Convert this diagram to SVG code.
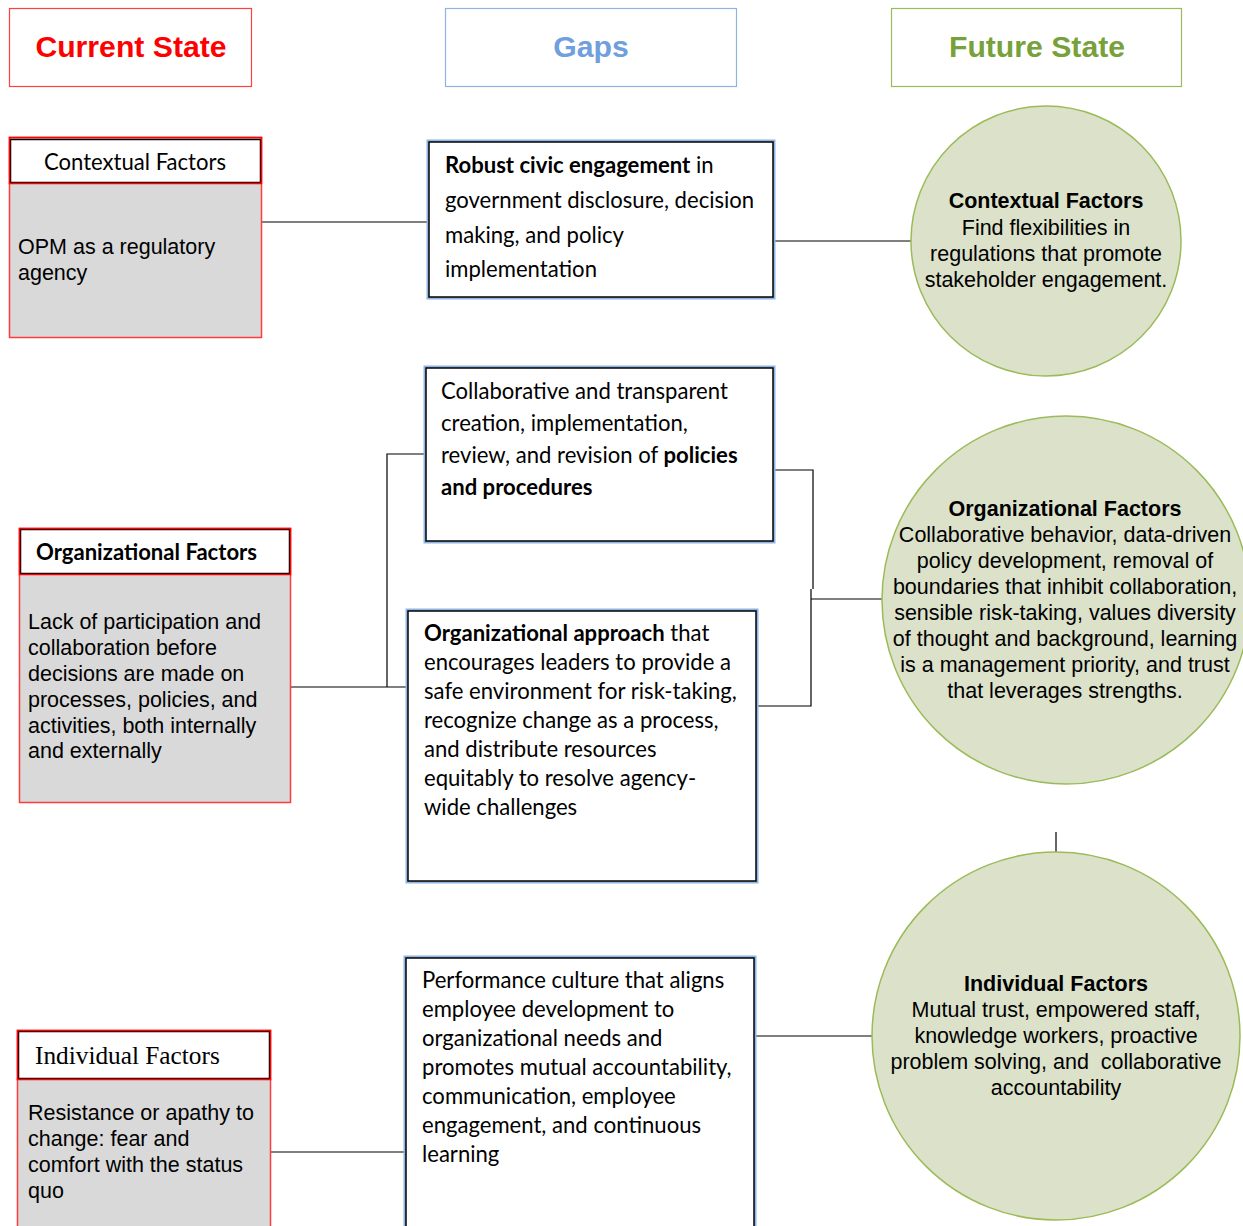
<svg xmlns="http://www.w3.org/2000/svg" width="1243" height="1226" viewBox="0 0 1243 1226">
<style>
.hdr{font-family:"Liberation Sans",Arial,sans-serif;font-weight:bold;font-size:30.2px;text-anchor:middle}
.cal{font-family:Lato,"Open Sans",sans-serif;font-size:22.1px;fill:#000}
.arial{font-family:"Liberation Sans",Arial,sans-serif;font-size:21.5px;fill:#000}
.ctr{text-anchor:middle}
.b{font-weight:bold}
.gapout{fill:none;stroke:#8eb4e3;stroke-width:3}
.gapin{fill:#fff;stroke:#000;stroke-width:1.5}
.grey{fill:#d9d9d9;stroke:#ff3b3b;stroke-width:1.5}
.hbox{fill:#fff;stroke:#000;stroke-width:1.5}
.hboxred{fill:none;stroke:#ff0000;stroke-width:1.5}
.circ{fill:#dce2ca;stroke:#9bbb59;stroke-width:1.5}
.conn{fill:none;stroke:#000;stroke-width:1.2}
</style>

<g id="hdr-current">
<rect x="9.5" y="8.5" width="242" height="78" fill="#fff" stroke="#ff4040" stroke-width="1.2"/>
<text class="hdr" x="131" y="57" fill="#ff0000">Current State</text>
</g>
<g id="hdr-gaps">
<rect x="445.5" y="8.5" width="291" height="78" fill="#fff" stroke="#8eb4e3" stroke-width="1.2"/>
<text class="hdr" x="591" y="57" fill="#6f9fdd">Gaps</text>
</g>
<g id="hdr-future">
<rect x="891.5" y="8.5" width="290" height="78" fill="#fff" stroke="#9bbb59" stroke-width="1.2"/>
<text class="hdr" x="1037" y="57" fill="#77a13a">Future State</text>
</g>

<g id="connectors">
<line class="conn" x1="262" y1="222" x2="428" y2="222" stroke="#666"/>
<line class="conn" x1="774" y1="241" x2="912" y2="241"/>
<polyline class="conn" points="425,454 387,454 387,687"/>
<line class="conn" x1="291" y1="687" x2="407" y2="687" stroke="#555"/>
<polyline class="conn" points="774,470 813,470 813,589"/>
<polyline class="conn" points="757,706 811,706 811,589"/>
<line class="conn" x1="811" y1="599" x2="882" y2="599" stroke="#555"/>
<line class="conn" x1="1056" y1="832" x2="1056" y2="852" stroke="#555"/>
<line class="conn" x1="755" y1="1036" x2="872" y2="1036" stroke="#555"/>
<line class="conn" x1="271" y1="1152" x2="405" y2="1152" stroke="#333"/>
</g>

<g id="cur-contextual">
<rect class="grey" x="9.5" y="137.5" width="252" height="200"/>
<rect class="hbox" x="10.5" y="139.5" width="250" height="43"/>
<rect class="hboxred" x="9.5" y="137.5" width="252" height="46"/>
<text class="cal ctr" x="135" y="170">Contextual Factors</text>
<text class="arial" x="18" y="254">OPM as a regulatory</text>
<text class="arial" x="18" y="280">agency</text>
</g>

<g id="cur-organizational">
<rect class="grey" x="19.5" y="528.5" width="271" height="274"/>
<rect class="hbox" x="20.5" y="529.5" width="269" height="44"/>
<rect class="hboxred" x="19.5" y="528.5" width="271" height="46"/>
<text class="cal b" x="36" y="560">Organizational Factors</text>
<text class="arial" x="28" y="629">Lack of participation and</text>
<text class="arial" x="28" y="655">collaboration before</text>
<text class="arial" x="28" y="681">decisions are made on</text>
<text class="arial" x="28" y="707">processes, policies, and</text>
<text class="arial" x="28" y="733">activities, both internally</text>
<text class="arial" x="28" y="758">and externally</text>
</g>

<g id="cur-individual">
<rect class="grey" x="17.5" y="1030.5" width="253" height="200"/>
<rect class="hbox" x="18.5" y="1031.5" width="251" height="47"/>
<rect class="hboxred" x="17.5" y="1030.5" width="253" height="49"/>
<text x="35" y="1064" font-family="'Liberation Serif','Times New Roman',serif" font-size="25.3">Individual Factors</text>
<text class="arial" x="28" y="1120">Resistance or apathy to</text>
<text class="arial" x="28" y="1146">change: fear and</text>
<text class="arial" x="28" y="1172">comfort with the status</text>
<text class="arial" x="28" y="1198">quo</text>
</g>

<g id="gap-civic">
<rect class="gapout" x="428" y="141" width="346" height="157"/>
<rect class="gapin" x="429" y="142" width="344" height="155"/>
<text class="cal" x="445" y="173"><tspan class="b">Robust civic engagement</tspan> in</text>
<text class="cal" x="445" y="208">government disclosure, decision</text>
<text class="cal" x="445" y="243">making, and policy</text>
<text class="cal" x="445" y="277">implementation</text>
</g>

<g id="gap-policies">
<rect class="gapout" x="425" y="367" width="349" height="175"/>
<rect class="gapin" x="426" y="368" width="347" height="173"/>
<text class="cal" x="441" y="399">Collaborative and transparent</text>
<text class="cal" x="441" y="431">creation, implementation,</text>
<text class="cal" x="441" y="463">review, and revision of <tspan class="b">policies</tspan></text>
<text class="cal b" x="441" y="495">and procedures</text>
</g>

<g id="gap-approach">
<rect class="gapout" x="407" y="610" width="350" height="272"/>
<rect class="gapin" x="408" y="611" width="348" height="270"/>
<text class="cal" x="424" y="641"><tspan class="b">Organizational approach</tspan> that</text>
<text class="cal" x="424" y="670">encourages leaders to provide a</text>
<text class="cal" x="424" y="699">safe environment for risk-taking,</text>
<text class="cal" x="424" y="728">recognize change as a process,</text>
<text class="cal" x="424" y="757">and distribute resources</text>
<text class="cal" x="424" y="786">equitably to resolve agency-</text>
<text class="cal" x="424" y="815">wide challenges</text>
</g>

<g id="gap-performance">
<rect class="gapout" x="405" y="957" width="350" height="280"/>
<rect class="gapin" x="406" y="958" width="348" height="278"/>
<text class="cal" x="422" y="988">Performance culture that aligns</text>
<text class="cal" x="422" y="1017">employee development to</text>
<text class="cal" x="422" y="1046">organizational needs and</text>
<text class="cal" x="422" y="1075">promotes mutual accountability,</text>
<text class="cal" x="422" y="1104">communication, employee</text>
<text class="cal" x="422" y="1133">engagement, and continuous</text>
<text class="cal" x="422" y="1162">learning</text>
</g>

<g id="fut-contextual">
<circle class="circ" cx="1046" cy="241" r="135"/>
<text class="arial ctr b" x="1046" y="208">Contextual Factors</text>
<text class="arial ctr" x="1046" y="235">Find flexibilities in</text>
<text class="arial ctr" x="1046" y="261">regulations that promote</text>
<text class="arial ctr" x="1046" y="287">stakeholder engagement.</text>
</g>

<g id="fut-organizational">
<circle class="circ" cx="1066" cy="600" r="184"/>
<text class="arial ctr b" x="1065" y="516">Organizational Factors</text>
<text class="arial ctr" x="1065" y="542">Collaborative behavior, data-driven</text>
<text class="arial ctr" x="1065" y="568">policy development, removal of</text>
<text class="arial ctr" x="1065" y="594">boundaries that inhibit collaboration,</text>
<text class="arial ctr" x="1065" y="620">sensible risk-taking, values diversity</text>
<text class="arial ctr" x="1065" y="646">of thought and background, learning</text>
<text class="arial ctr" x="1065" y="672">is a management priority, and trust</text>
<text class="arial ctr" x="1065" y="698">that leverages strengths.</text>
</g>

<g id="fut-individual">
<circle class="circ" cx="1056" cy="1036" r="184"/>
<text class="arial ctr b" x="1056" y="991">Individual Factors</text>
<text class="arial ctr" x="1056" y="1017">Mutual trust, empowered staff,</text>
<text class="arial ctr" x="1056" y="1043">knowledge workers, proactive</text>
<text class="arial ctr" x="1056" y="1069" xml:space="preserve">problem solving, and  collaborative</text>
<text class="arial ctr" x="1056" y="1095">accountability</text>
</g>
</svg>
